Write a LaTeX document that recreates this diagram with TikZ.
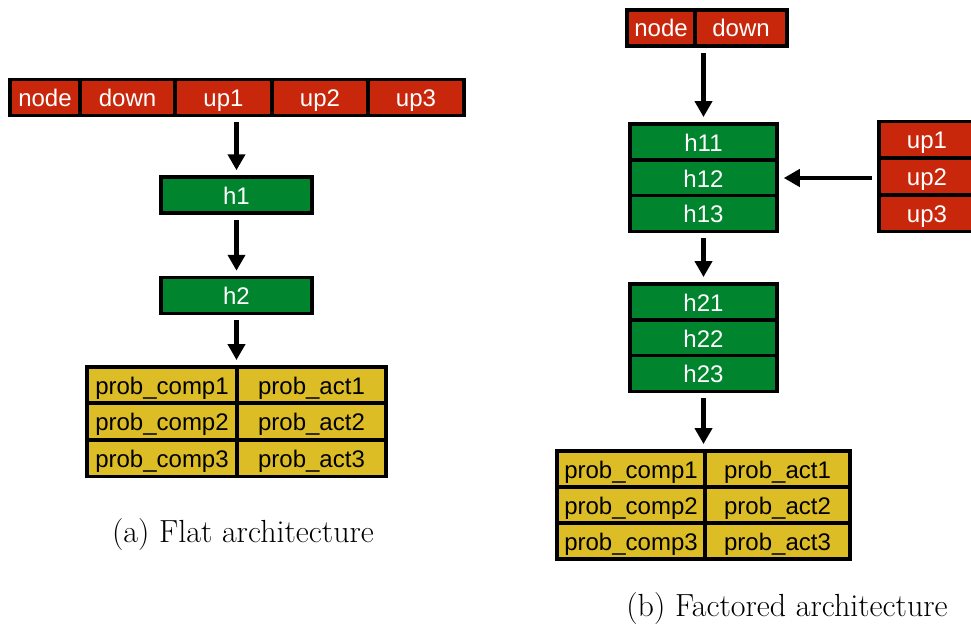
\documentclass[tikz,border=0pt]{standalone}
\usepackage{fontspec}
\newfontfamily\boxfont{Liberation Sans}
\usetikzlibrary{arrows.meta,fit}
\definecolor{cellred}{RGB}{201,39,11}
\definecolor{cellgreen}{RGB}{0,133,46}
\definecolor{cellyellow}{RGB}{220,189,38}
\tikzset{
  cell/.style={draw=black, line width=3.5pt, inner sep=0pt, minimum height=36pt,
    text height=20pt, text depth=2pt,
    font=\boxfont\fontsize{24}{26}\selectfont},
  redcell/.style={cell, fill=cellred, text=white},
  greencell/.style={cell, fill=cellgreen, text=white, minimum width=147pt},
  yellowcell/.style={cell, fill=cellyellow, text=black},
  group/.style={inner sep=0pt},
  arr/.style={line width=4.5pt, -{Triangle[length=16pt,width=17pt]},
    shorten <=5pt, shorten >=5pt},
  caption/.style={font=\fontsize{32}{34}\selectfont}
}
\begin{document}
\begin{tikzpicture}[x=1pt,y=-1pt]
\useasboundingbox (0,0) rectangle (971,626);

% ---- flat architecture ----
\node[redcell, minimum width=70pt] (an) at (45,97.5) {node};
\node[redcell, minimum width=95pt] (ad) at (127.5,97.5) {down};
\node[redcell, minimum width=97pt] (au1) at (223.5,97.5) {up1};
\node[redcell, minimum width=96pt] (au2) at (320,97.5) {up2};
\node[redcell, minimum width=96pt] (au3) at (416,97.5) {up3};
\node[group, fit=(an)(au3)] (ainput) {};

\node[greencell, minimum width=151pt] (ah1) at (236.5,195) {h1};
\node[greencell, minimum width=151pt] (ah2) at (236.5,295.5) {h2};

\node[yellowcell, minimum width=150pt] (ac1) at (162,385) {prob\_comp1};
\node[yellowcell, minimum width=149pt] (aa1) at (311.5,385) {prob\_act1};
\node[yellowcell, minimum width=150pt] (ac2) at (162,421.5) {prob\_comp2};
\node[yellowcell, minimum width=149pt] (aa2) at (311.5,421.5) {prob\_act2};
\node[yellowcell, minimum width=150pt] (ac3) at (162,458.5) {prob\_comp3};
\node[yellowcell, minimum width=149pt] (aa3) at (311.5,458.5) {prob\_act3};
\node[group, fit=(ac1)(aa3)] (aout) {};

\draw[arr] (ah1.north |- ainput.south) -- (ah1.north);
\draw[arr] (ah1.south) -- (ah2.north);
\draw[arr] (ah2.south) -- (ah2.south |- aout.north);

\node[caption] (acap) at (243,535) {(a) Flat architecture};

% ---- factored architecture ----
\node[redcell, minimum width=68pt] (bn) at (661,28) {node};
\node[redcell, minimum width=92pt] (bd) at (741,28) {down};
\node[group, fit=(bn)(bd)] (binput) {};

\node[greencell] (b11) at (703.5,142) {h11};
\node[greencell] (b12) at (703.5,178) {h12};
\node[greencell] (b13) at (703.5,213.5) {h13};
\node[group, fit=(b11)(b13)] (bfirst) {};

\node[redcell, minimum width=96pt] (bu1) at (927,139.5) {up1};
\node[redcell, minimum width=96pt] (bu2) at (927,176.5) {up2};
\node[redcell, minimum width=96pt] (bu3) at (927,213.5) {up3};
\node[group, fit=(bu1)(bu3)] (bups) {};

\node[greencell] (b21) at (703.5,302) {h21};
\node[greencell] (b22) at (703.5,338) {h22};
\node[greencell] (b23) at (703.5,373.5) {h23};
\node[group, fit=(b21)(b23)] (bsecond) {};

\node[yellowcell, minimum width=148pt] (bc1) at (631,469) {prob\_comp1};
\node[yellowcell, minimum width=145pt] (ba1) at (777.5,469) {prob\_act1};
\node[yellowcell, minimum width=148pt] (bc2) at (631,505) {prob\_comp2};
\node[yellowcell, minimum width=145pt] (ba2) at (777.5,505) {prob\_act2};
\node[yellowcell, minimum width=148pt] (bc3) at (631,541) {prob\_comp3};
\node[yellowcell, minimum width=145pt] (ba3) at (777.5,541) {prob\_act3};
\node[group, fit=(bc1)(ba3)] (bout) {};

\draw[arr] (bfirst.north |- binput.south) -- (bfirst.north);
\draw[arr] (bups.west |- b12.east) -- (b12.east);
\draw[arr] (bfirst.south) -- (bsecond.north);
\draw[arr] (bsecond.south) -- (bsecond.south |- bout.north);

\node[caption] (bcap) at (787,609) {(b) Factored architecture};
\end{tikzpicture}
\end{document}
